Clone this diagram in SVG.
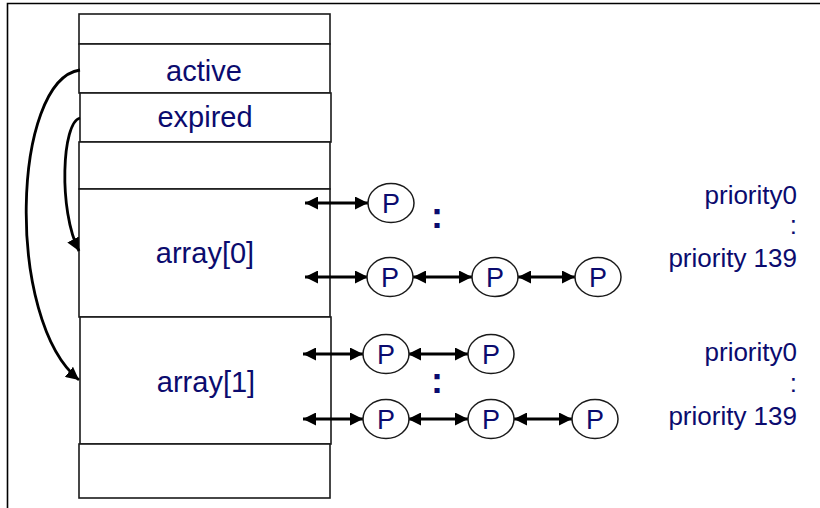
<svg xmlns="http://www.w3.org/2000/svg" width="820" height="508" viewBox="0 0 820 508">
<style>
.box{fill:#fff;stroke:#1a1a1a;stroke-width:1.6}
.lbl{font-family:"Liberation Sans",Arial,sans-serif;fill:#0b0b6e;text-anchor:middle}
.big{font-size:29px}
.pr{font-family:"Liberation Sans",Arial,sans-serif;fill:#0b0b6e;font-size:26px;text-anchor:end}
.node ellipse{fill:#fff;stroke:#1a1a1a;stroke-width:1.5}
.node text{font-family:"Liberation Sans",Arial,sans-serif;fill:#0b0b6e;font-size:27px;text-anchor:middle}
.dbl{stroke:#000;stroke-width:2.8;fill:none;marker-start:url(#ah);marker-end:url(#ah)}
.crv{stroke:#000;stroke-width:2.8;fill:none;marker-end:url(#ah)}
.frame{stroke:#000;stroke-width:1.6;fill:none}
</style>
<defs>
<marker id="ah" markerUnits="userSpaceOnUse" markerWidth="14" markerHeight="13" refX="13" refY="6.5" orient="auto-start-reverse">
<path d="M0,0 L13,6.5 L0,13 z" fill="#000"/>
</marker>
</defs>
<rect width="820" height="508" fill="#fff"/>
<path class="frame" d="M7.5,508 V3.5 H820"/>

<g id="table">
<rect class="box" x="79" y="14" width="251" height="30"/>
<g id="active"><rect class="box" x="79" y="44" width="251" height="49"/><text class="lbl big" x="204" y="81">active</text></g>
<g id="expired"><rect class="box" x="80" y="93" width="251" height="49"/><text class="lbl big" x="205" y="127">expired</text></g>
<rect class="box" x="79" y="142" width="251" height="47"/>
<g id="array0"><rect class="box" x="79" y="189" width="251" height="128"/><text class="lbl big" x="205" y="263">array[0]</text></g>
<g id="array1"><rect class="box" x="80" y="317" width="251" height="127"/><text class="lbl big" x="206" y="392">array[1]</text></g>
<rect class="box" x="79" y="444" width="251" height="54"/>
</g>

<g id="connectors">
<path class="crv" d="M80,70 C12,80 5,320 79,380"/>
<path class="crv" d="M80,118 C62,122 58,210 79,251"/>
<line class="dbl" x1="305" y1="203" x2="368" y2="203"/>
<line class="dbl" x1="305" y1="277" x2="368" y2="277"/>
<line class="dbl" x1="413" y1="277" x2="472" y2="277"/>
<line class="dbl" x1="518" y1="277" x2="575" y2="277"/>
<line class="dbl" x1="303" y1="354" x2="363" y2="354"/>
<line class="dbl" x1="408" y1="354" x2="468" y2="354"/>
<line class="dbl" x1="303" y1="419" x2="363" y2="419"/>
<line class="dbl" x1="408" y1="419" x2="468" y2="419"/>
<line class="dbl" x1="514" y1="419" x2="572" y2="419"/>
</g>

<g id="p00" class="node"><ellipse cx="391" cy="203" rx="23" ry="19.5"/><text x="391" y="213">P</text></g>
<g id="p10" class="node"><ellipse cx="390" cy="277" rx="23" ry="19.5"/><text x="390" y="287">P</text></g>
<g id="p11" class="node"><ellipse cx="495" cy="277" rx="23" ry="19.5"/><text x="495" y="287">P</text></g>
<g id="p12" class="node"><ellipse cx="598" cy="277" rx="23" ry="19.5"/><text x="598" y="287">P</text></g>
<g id="p20" class="node"><ellipse cx="386" cy="354" rx="23" ry="19.5"/><text x="386" y="364">P</text></g>
<g id="p21" class="node"><ellipse cx="491" cy="354" rx="23" ry="19.5"/><text x="491" y="364">P</text></g>
<g id="p30" class="node"><ellipse cx="386" cy="419" rx="23" ry="19.5"/><text x="386" y="429">P</text></g>
<g id="p31" class="node"><ellipse cx="491" cy="419" rx="23" ry="19.5"/><text x="491" y="429">P</text></g>
<g id="p32" class="node"><ellipse cx="595" cy="419" rx="23" ry="19.5"/><text x="595" y="429">P</text></g>

<text class="lbl" style="font-size:36px;font-weight:bold" x="437" y="228">:</text>
<text class="lbl" style="font-size:36px;font-weight:bold" x="437" y="393">:</text>

<g id="labels0">
<text class="pr" x="797" y="204">priority0</text>
<text class="pr" x="797" y="234">:</text>
<text class="pr" x="797" y="267">priority 139</text>
</g>
<g id="labels1">
<text class="pr" x="797" y="361">priority0</text>
<text class="pr" x="797" y="392">:</text>
<text class="pr" x="797" y="425">priority 139</text>
</g>
</svg>
